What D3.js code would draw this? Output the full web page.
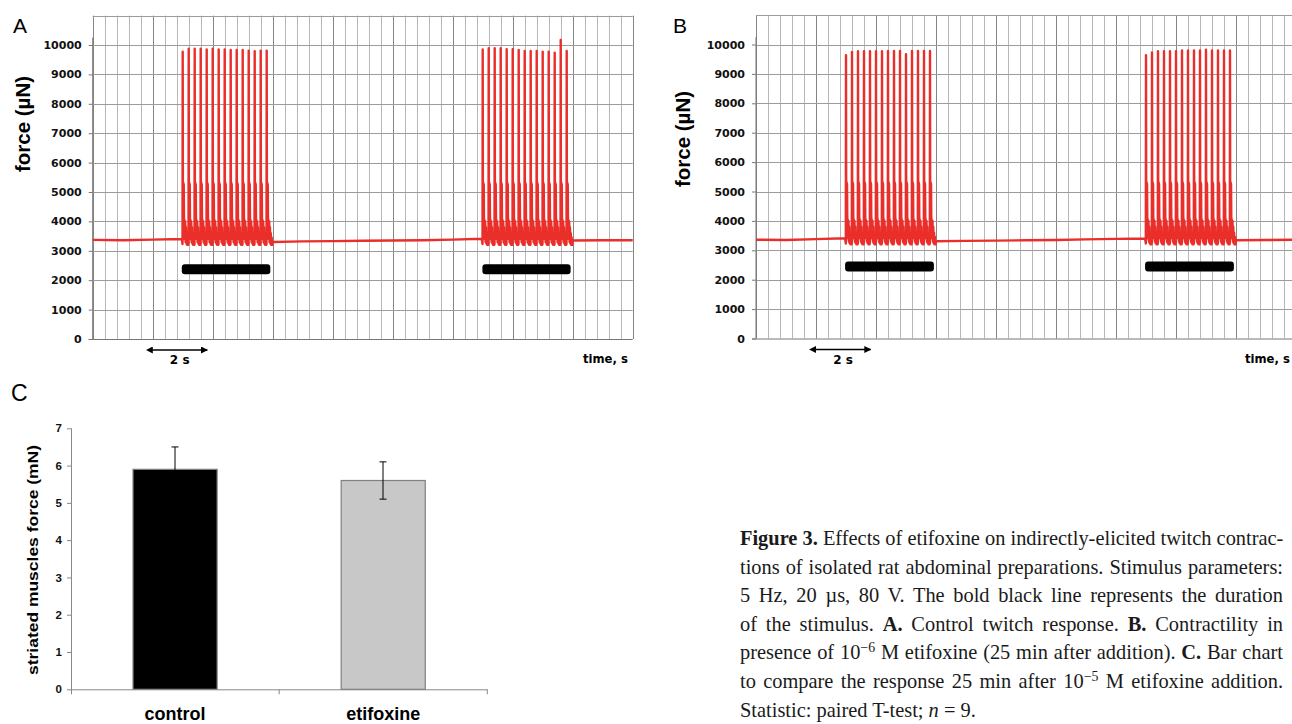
<!DOCTYPE html>
<html lang="en">
<head>
<meta charset="UTF-8">
<title>Figure 3 - etifoxine and twitch contractions</title>
<script src="https://cdn.jsdelivr.net/npm/d3@7"></script>
<style>
  body { margin: 0; background: #fff; }
  #fig { position: relative; width: 1292px; height: 724px; overflow: hidden; }
  #fig svg { position: absolute; left: 0; top: 0; }
  .caption { position: absolute; left: 740px; top: 524px; width: 543px;
             font-family: "Liberation Serif", "Times New Roman", serif; font-size: 20.4px; color: #1a1a1a; }
  .caption div { height: 28.6px; line-height: 28.6px; white-space: nowrap;
                 text-align: justify; text-align-last: justify; }
  .caption div.last { text-align-last: left; }
  .caption .sup { position: relative; top: -0.5em; font-size: 0.68em; line-height: 0; }
</style>
</head>
<body>
<div id="fig"></div>
<script type="application/javascript">

    // ---- data ----
    let forceTicks = [0, 1000, 2000, 3000, 4000, 5000, 6000, 7000, 8000, 9000, 10000];
    let stimRate = 5;                 // Hz
    let trainStarts = [3.0, 13.0];    // s, first twitch of each train

    // twitch peaks (µN), one value per twitch
    let peaksA1 = [9770, 9870, 9870, 9870, 9850, 9870, 9850, 9850, 9830, 9830, 9830, 9810, 9790, 9810, 9810];
    let peaksA2 = [9850, 9890, 9890, 9890, 9860, 9860, 9830, 9800, 9800, 9800, 9770, 9770, 9740, 10170, 9800];
    let peaksB1 = [9640, 9750, 9770, 9770, 9770, 9770, 9770, 9780, 9780, 9780, 9670, 9780, 9780, 9780, 9780];
    let peaksB2 = [9640, 9730, 9770, 9770, 9770, 9770, 9800, 9800, 9800, 9800, 9820, 9800, 9800, 9800, 9800];

    // shape of one twitch with its ringing tail: [s after stimulus, force µN], 'peak' = that twitch's peak
    let twitchShape = [[-0.006, 3230], [0, 'peak'], [0.006, 5350], [0.035, 5250], [0.045, 3800],
                       [0.058, 4050], [0.07, 3400], [0.083, 4000], [0.096, 3300], [0.109, 3800],
                       [0.122, 3250], [0.135, 3600], [0.15, 3200], [0.165, 3450], [0.18, 3200],
                       [0.19, 3240]];

    // resting tension between trains [s, µN]
    let baselineA = [[0, 3370], [1, 3360], [2, 3380], [2.97, 3400], [6.0, 3300], [7, 3320], [8, 3330],
                     [9, 3340], [10, 3350], [11, 3360], [12, 3380], [12.97, 3410], [16.0, 3350], [17, 3360], [18, 3360]];
    let baselineB = [[0, 3360], [1, 3350], [2, 3380], [2.97, 3410], [6.0, 3310], [7, 3320], [8, 3330],
                     [9, 3340], [10, 3350], [11, 3370], [12, 3390], [12.97, 3400], [16.0, 3340], [17, 3350], [18, 3360]];

    // stimulus duration bars [start s, end s] and their level (µN)
    let stimA = [[2.97, 5.92], [12.99, 15.93]];
    let stimB = [[2.97, 5.93], [12.97, 15.93]];
    let stimLevelA = 2370, stimLevelB = 2450;

    // scale arrow (s)
    let arrowSpan = [1.98, 3.82];

    // panel C
    let categories = ['control', 'etifoxine'];
    let meanForce = [5.9, 5.6];
    let semForce = [0.6, 0.5];
    let forceTicksC = [0, 1, 2, 3, 4, 5, 6, 7];

    let captionLines = [
        '<b>Figure 3.</b> Effects of etifoxine on indirectly-elicited twitch contrac-',
        'tions of isolated rat abdominal preparations. Stimulus parameters:',
        '5 Hz, 20 µs, 80 V. The bold black line represents the duration',
        'of the stimulus. <b>A.</b> Control twitch response. <b>B.</b> Contractility in',
        'presence of 10<span class="sup">\u22126</span> M etifoxine (25 min after addition). <b>C.</b> Bar chart',
        'to compare the response 25 min after 10<span class="sup">\u22125</span> M etifoxine addition.',
        'Statistic: paired T-test; <i>n</i> = 9.'
    ];

    // ---- drawing ----
    let w = 1292, h = 724;
    let period = 1 / stimRate;
    let red = '#ea2e2a';
    let smallFont = '"DejaVu Sans", sans-serif';
    let armFont = '"Liberation Sans", Arial, sans-serif';

    let svg = d3.select('#fig')
        .append('svg')
        .attr('width', w)
        .attr('height', h);

    let defs = svg.append('defs');
    ['start', 'end'].forEach(function(k) {
        defs.append('marker')
            .attr('id', 'arrow-' + k)
            .attr('viewBox', '0 0 10 10')
            .attr('refX', k === 'end' ? 9 : 1).attr('refY', 5)
            .attr('markerWidth', 7).attr('markerHeight', 7)
            .attr('markerUnits', 'userSpaceOnUse')
            .attr('orient', 'auto-start-reverse')
            .append('path')
            .attr('d', 'M0,0 L10,5 L0,10 Z')
            .attr('fill', '#000');
    });

    function tracePoints(baseline, peaks) {
        let windows = trainStarts.map(function(s, i) {
            return [s - 0.02, s + period * peaks[i].length];
        });
        let pts = baseline.filter(function(p) {
            return !windows.some(function(wd) { return p[0] > wd[0] && p[0] < wd[1]; });
        });
        trainStarts.forEach(function(s, i) {
            peaks[i].forEach(function(pk, k) {
                twitchShape.forEach(function(d) {
                    pts.push([s + k * period + d[0], d[1] === 'peak' ? pk : d[1]]);
                });
            });
        });
        return pts.sort(function(a, b) { return a[0] - b[0]; });
    }

    function drawTrace(opts) {
        let g = svg.append('g');
        let x = d3.scaleLinear().domain([0, 18]).range([opts.x0, opts.x0 + 540]);
        let y = d3.scaleLinear().domain([0, 11000]).range([opts.y0, opts.y0 - 323.4]);

        // grid
        let vt = d3.range(0, 18.001, 0.4);
        g.append('g').selectAll('line')
            .data(vt)
            .enter()
            .append('line')
            .attr('x1', function(d) { return Math.round(x(d)) + 0.5; })
            .attr('x2', function(d) { return Math.round(x(d)) + 0.5; })
            .attr('y1', y(11000)).attr('y2', y(0))
            .attr('stroke', function(d) {
                return Math.abs(d / 2 - Math.round(d / 2)) < 1e-6 ? '#858585' : '#b8b8b8';
            })
            .attr('stroke-width', 1);
        g.append('g').selectAll('line')
            .data(d3.range(1000, 11001, 1000))
            .enter()
            .append('line')
            .attr('x1', x(0)).attr('x2', x(18))
            .attr('y1', function(d) { return Math.round(y(d)) + 0.5; })
            .attr('y2', function(d) { return Math.round(y(d)) + 0.5; })
            .attr('stroke', '#9c9c9c')
            .attr('stroke-width', 1);

        // axes
        let yAxis = d3.axisLeft(y)
            .tickValues(forceTicks)
            .tickFormat(d3.format('d'))
            .tickSize(4)
            .tickPadding(7);
        let ya = g.append('g')
            .attr('transform', 'translate(' + x(0) + ',0)')
            .call(yAxis);
        ya.select('.domain').remove();
        ya.selectAll('line').attr('stroke', '#777');
        ya.selectAll('text')
            .style('font-family', smallFont)
            .style('font-weight', 'bold')
            .style('font-size', '11px')
            .attr('fill', '#111');
        g.append('line')
            .attr('x1', x(0)).attr('x2', x(0))
            .attr('y1', y(10250)).attr('y2', y(0))
            .attr('stroke', '#777');
        g.append('line')
            .attr('x1', x(0) - 4).attr('x2', x(18))
            .attr('y1', y(0) + 0.5).attr('y2', y(0) + 0.5)
            .attr('stroke', '#777');

        // stimulus bars
        g.append('g').selectAll('rect')
            .data(opts.stim)
            .enter()
            .append('rect')
            .attr('x', function(d) { return x(d[0]); })
            .attr('width', function(d) { return x(d[1]) - x(d[0]); })
            .attr('y', y(opts.stimLevel) - 5)
            .attr('height', 10)
            .attr('rx', 3)
            .attr('fill', '#000');

        // force trace
        let line = d3.line()
            .x(function(d) { return x(d[0]); })
            .y(function(d) { return y(d[1]); });
        g.append('path')
            .datum(tracePoints(opts.baseline, opts.peaks))
            .attr('d', line)
            .attr('fill', 'none')
            .attr('stroke', red)
            .attr('stroke-width', 2.4)
            .attr('stroke-linejoin', 'round');

        // 2 s scale arrow
        g.append('line')
            .attr('x1', x(arrowSpan[0])).attr('x2', x(arrowSpan[1]))
            .attr('y1', opts.y0 + 11).attr('y2', opts.y0 + 11)
            .attr('stroke', '#000')
            .attr('stroke-width', 1.5)
            .attr('marker-start', 'url(#arrow-start)')
            .attr('marker-end', 'url(#arrow-end)');
        g.append('text')
            .attr('x', x((arrowSpan[0] + arrowSpan[1]) / 2))
            .attr('y', opts.y0 + 25)
            .attr('text-anchor', 'middle')
            .style('font-family', smallFont)
            .style('font-weight', 'bold')
            .style('font-size', '12px')
            .text('2 s');

        g.append('text')
            .attr('x', opts.timeX)
            .attr('y', opts.y0 + 24)
            .style('font-family', smallFont)
            .style('font-weight', 'bold')
            .style('font-size', '11.6px')
            .text('time, s');

        g.append('text')
            .attr('transform', 'translate(' + opts.labelX + ',' + opts.labelY + ') rotate(-90)')
            .attr('text-anchor', 'middle')
            .style('font-family', armFont)
            .style('font-weight', 'bold')
            .style('font-size', '20.5px')
            .text('force (\u00b5N)');

        g.append('text')
            .attr('x', opts.letterX)
            .attr('y', 33)
            .style('font-family', armFont)
            .style('font-size', '21px')
            .text(opts.letter);
    }

    drawTrace({ letter: 'A', letterX: 13, x0: 92.7, y0: 339, peaks: [peaksA1, peaksA2],
                baseline: baselineA, stim: stimA, stimLevel: stimLevelA,
                timeX: 583, labelX: 30, labelY: 124 });
    drawTrace({ letter: 'B', letterX: 673, x0: 756, y0: 338.5, peaks: [peaksB1, peaksB2],
                baseline: baselineB, stim: stimB, stimLevel: stimLevelB,
                timeX: 1245, labelX: 690, labelY: 139 });

    // ---- panel C: bar chart ----
    let gc = svg.append('g');
    let xC = d3.scaleBand()
        .domain(categories)
        .range([71, 487.3])
        .paddingInner(0.596)
        .paddingOuter(0.298);
    let yC = d3.scaleLinear()
        .domain([0, 7])
        .range([689.3, 428.3]);
    let barFill = ['#000000', '#c8c8c8'];

    gc.selectAll('rect')
        .data(categories)
        .enter()
        .append('rect')
        .attr('x', function(d) { return xC(d); })
        .attr('width', xC.bandwidth())
        .attr('y', function(d, i) { return yC(meanForce[i]); })
        .attr('height', function(d, i) { return yC(0) - yC(meanForce[i]); })
        .attr('fill', function(d, i) { return barFill[i]; })
        .attr('stroke', '#808080')
        .attr('stroke-width', 1.2);

    let eb = gc.append('g').selectAll('g')
        .data(categories)
        .enter()
        .append('g')
        .attr('transform', function(d) { return 'translate(' + Math.round(xC(d) + xC.bandwidth() / 2) + ',0)'; });
    eb.append('line')
        .attr('y1', function(d, i) { return yC(meanForce[i] - semForce[i]); })
        .attr('y2', function(d, i) { return yC(meanForce[i] + semForce[i]); })
        .attr('stroke', '#000');
    [1, -1].forEach(function(s) {
        eb.append('line')
            .attr('x1', -3.5).attr('x2', 3.5)
            .attr('y1', function(d, i) { return yC(meanForce[i] + s * semForce[i]); })
            .attr('y2', function(d, i) { return yC(meanForce[i] + s * semForce[i]); })
            .attr('stroke', '#000');
    });

    let yAxisC = d3.axisLeft(yC)
        .tickValues(forceTicksC)
        .tickFormat(d3.format('d'))
        .tickSize(4)
        .tickPadding(5)
        .tickSizeOuter(0);
    let yac = gc.append('g')
        .attr('transform', 'translate(71,0)')
        .call(yAxisC);
    yac.select('.domain').remove();
    yac.selectAll('line').attr('stroke', '#888');
    yac.selectAll('text')
        .style('font-family', armFont)
        .style('font-weight', 'bold')
        .style('font-size', '11.5px')
        .attr('fill', '#111');
    gc.append('line')
        .attr('x1', 71.5).attr('x2', 71.5)
        .attr('y1', yC(7)).attr('y2', yC(0) + 5)
        .attr('stroke', '#888');
    gc.append('line')
        .attr('x1', 71).attr('x2', 487.3)
        .attr('y1', yC(0) + 0.5).attr('y2', yC(0) + 0.5)
        .attr('stroke', '#888');
    // category boundary ticks
    gc.append('g').selectAll('line')
        .data([xC(categories[1]) - xC.step() * xC.paddingInner() / 2, 487.3])
        .enter()
        .append('line')
        .attr('x1', function(d) { return d; }).attr('x2', function(d) { return d; })
        .attr('y1', yC(0)).attr('y2', yC(0) + 5)
        .attr('stroke', '#888');

    gc.append('g').selectAll('text')
        .data(categories)
        .enter()
        .append('text')
        .attr('x', function(d) { return xC(d) + xC.bandwidth() / 2; })
        .attr('y', 720)
        .attr('text-anchor', 'middle')
        .style('font-family', armFont)
        .style('font-weight', 'bold')
        .style('font-size', '18px')
        .text(function(d) { return d; });

    gc.append('text')
        .attr('transform', 'translate(38,560) rotate(-90)')
        .attr('text-anchor', 'middle')
        .attr('textLength', 230)
        .attr('lengthAdjust', 'spacingAndGlyphs')
        .style('font-family', armFont)
        .style('font-weight', 'bold')
        .style('font-size', '14px')
        .text('striated muscles force (mN)');

    gc.append('text')
        .attr('x', 11)
        .attr('y', 401)
        .style('font-family', armFont)
        .style('font-size', '23px')
        .text('C');

    // ---- caption ----
    d3.select('#fig')
        .append('div')
        .attr('class', 'caption')
        .selectAll('div')
        .data(captionLines)
        .enter()
        .append('div')
        .attr('class', function(d, i) { return i === captionLines.length - 1 ? 'last' : null; })
        .html(function(d) { return d; });

</script>
</body>
</html>
